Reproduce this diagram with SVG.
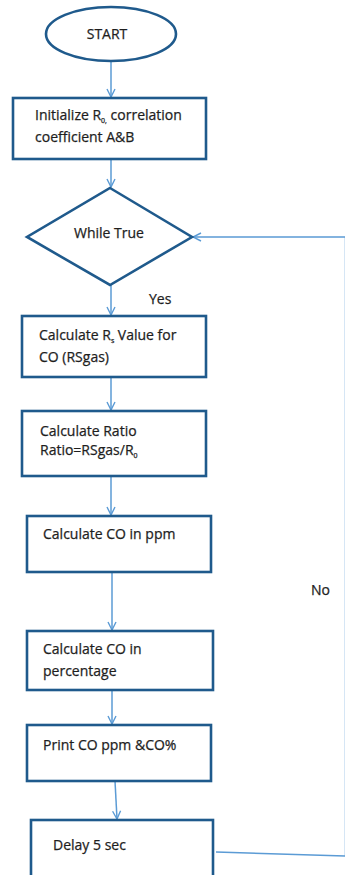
<svg xmlns="http://www.w3.org/2000/svg" width="345" height="875" viewBox="0 0 345 875">
<defs>
<marker id="arr" viewBox="0 0 10 10" refX="9" refY="5" markerWidth="10" markerHeight="10" markerUnits="userSpaceOnUse" orient="auto">
<path d="M1,1 L9,5 L1,9" fill="none" stroke="#5b9bd5" stroke-width="1.4"/>
</marker>
<style>
.n{fill:#fff;stroke:#1f5a8c;stroke-width:2.6}
.t{font-family:"Open Sans","Liberation Sans",sans-serif;font-size:14px;fill:#1e1e1e;stroke:#1e1e1e;stroke-width:0.25}
.s{font-size:7px}
.c{fill:none;stroke:#5b9bd5;stroke-width:1.5}
</style>
</defs>
<rect width="345" height="875" fill="#fff"/>
<g id="connectors">
<line class="c" x1="111" y1="61" x2="111" y2="97" marker-end="url(#arr)"/>
<line class="c" x1="111" y1="159" x2="111" y2="187" marker-end="url(#arr)"/>
<line class="c" x1="111" y1="285" x2="111" y2="315" marker-end="url(#arr)"/>
<line class="c" x1="111" y1="377" x2="111" y2="410" marker-end="url(#arr)"/>
<line class="c" x1="111" y1="476" x2="111" y2="515" marker-end="url(#arr)"/>
<line class="c" x1="112" y1="572" x2="112" y2="630" marker-end="url(#arr)"/>
<line class="c" x1="112" y1="690" x2="112" y2="724" marker-end="url(#arr)"/>
<line class="c" x1="115" y1="781" x2="117" y2="819" marker-end="url(#arr)"/>
<polyline class="c" points="216,852 345.5,856 345.5,237 193,237" marker-end="url(#arr)"/>
</g>
<g id="start">
<ellipse class="n" cx="111" cy="34" rx="65" ry="27"/>
<text class="t" x="107" y="39" text-anchor="middle">START</text>
</g>
<g id="init">
<rect class="n" x="13" y="98" width="193" height="61"/>
<text class="t" x="35" y="120">Initialize R<tspan class="s" dy="3">0,</tspan><tspan dy="-3"> correlation</tspan></text>
<text class="t" x="35" y="142">coefficient A&amp;B</text>
</g>
<g id="while">
<polygon class="n" points="110,188 192,237 110,285 27,237"/>
<text class="t" x="109" y="238" text-anchor="middle">While True</text>
</g>
<text class="t" x="149" y="304">Yes</text>
<g id="rs">
<rect class="n" x="22" y="316" width="184" height="61"/>
<text class="t" x="39" y="340">Calculate R<tspan class="s" dy="3">s</tspan><tspan dy="-3"> Value for</tspan></text>
<text class="t" x="39" y="362">CO (RSgas)</text>
</g>
<g id="ratio">
<rect class="n" x="22" y="411" width="184" height="65"/>
<text class="t" x="40" y="436">Calculate Ratio</text>
<text class="t" x="40" y="455">Ratio=RSgas/R<tspan class="s" dy="3">0</tspan></text>
</g>
<g id="ppm">
<rect class="n" x="27" y="516" width="184" height="56"/>
<text class="t" x="43" y="539">Calculate CO in ppm</text>
</g>
<text class="t" x="311" y="595">No</text>
<g id="pct">
<rect class="n" x="27" y="631" width="186" height="59"/>
<text class="t" x="43" y="654">Calculate CO in</text>
<text class="t" x="43" y="676">percentage</text>
</g>
<g id="print">
<rect class="n" x="27" y="725" width="184" height="56"/>
<text class="t" x="43" y="750">Print CO ppm &amp;CO%</text>
</g>
<g id="delay">
<rect class="n" x="31" y="820" width="182" height="70"/>
<text class="t" x="53" y="850">Delay 5 sec</text>
</g>
</svg>
